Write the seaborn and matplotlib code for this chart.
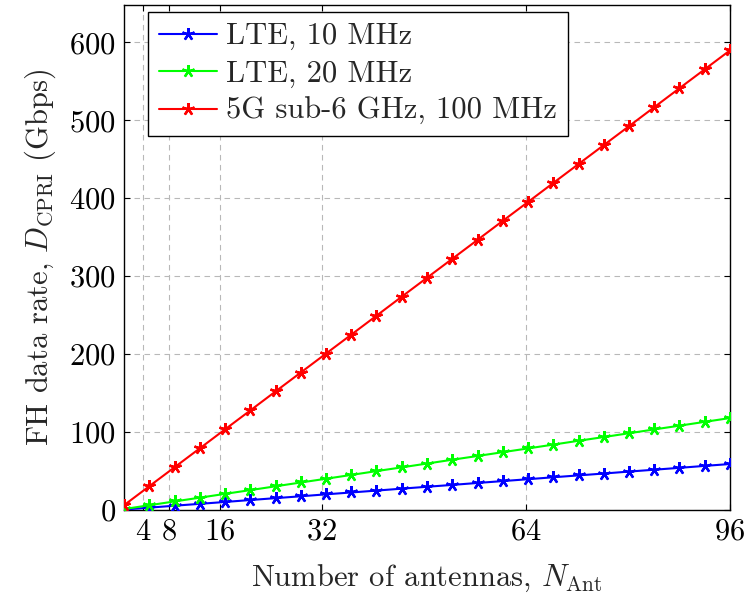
import matplotlib
matplotlib.use("Agg")
import matplotlib.pyplot as plt
import seaborn as sns
import pandas as pd

# Data
n_antennas = [1.0, 4.96, 8.92, 12.88, 16.83, 20.79, 24.75, 28.71, 32.67, 36.63,
              40.58, 44.54, 48.5, 52.46, 56.42, 60.38, 64.33, 68.29, 72.25,
              76.21, 80.17, 84.13, 88.08, 92.04, 96.0]
lte10 = [0.6, 3.0, 5.5, 7.9, 10.3, 12.8, 15.2, 17.6, 20.1, 22.5, 24.9, 27.4,
         29.8, 32.2, 34.7, 37.1, 39.5, 42.0, 44.4, 46.8, 49.3, 51.7, 54.1,
         56.6, 59.0]
lte20 = [1.2, 6.1, 11.0, 15.8, 20.7, 25.5, 30.4, 35.3, 40.1, 45.0, 49.9, 54.7,
         59.6, 64.5, 69.3, 74.2, 79.0, 83.9, 88.8, 93.6, 98.5, 103.4, 108.2,
         113.1, 118.0]
nr100 = [6.1, 30.5, 54.8, 79.1, 103.4, 127.7, 152.1, 176.4, 200.7, 225.0,
         249.3, 273.7, 298.0, 322.3, 346.6, 371.0, 395.2, 419.6, 443.9, 468.2,
         492.5, 516.9, 541.2, 565.5, 589.8]
series_names = ["LTE, 10 MHz", "LTE, 20 MHz", "5G sub-6 GHz, 100 MHz"]
series_values = [lte10, lte20, nr100]
series_colors = ["#0000ff", "#00ff00", "#ff0000"]
x_ticks = [4, 8, 16, 32, 64, 96]
y_ticks = [0, 100, 200, 300, 400, 500, 600]

sns.set_theme(style="ticks")
plt.rcParams["font.family"] = "serif"
plt.rcParams["font.serif"] = ["cmr10", "DejaVu Serif"]
plt.rcParams["mathtext.fontset"] = "cm"
plt.rcParams["axes.formatter.use_mathtext"] = True
plt.rcParams["axes.unicode_minus"] = False

FS = 22

fig = plt.figure(figsize=(7.48, 5.94), dpi=100)
ax = fig.add_axes([124 / 748, 1 - 510 / 594, (730 - 124) / 748, (510 - 5) / 594])

frames = []
for name, vals in zip(series_names, series_values):
    frames.append(pd.DataFrame({"x": n_antennas, "y": vals, "series": name}))
df = pd.concat(frames, ignore_index=True)

for name, color in zip(series_names, series_colors):
    sub = df[df["series"] == name]
    sns.lineplot(data=sub, x="x", y="y", ax=ax, color=color, lw=1.5,
                 marker=(5, 2, 0), markersize=9, markeredgewidth=1.7,
                 markeredgecolor=color, label=name, zorder=3)

ax.set_xlim(1, 96)
ax.set_ylim(0, 648)
ax.set_xticks(x_ticks)
ax.set_yticks(y_ticks)
ax.grid(True, linestyle=(0, (5, 4)), color="#b8b8b8", linewidth=0.8, zorder=0)
ax.tick_params(direction="in", top=True, right=True, length=4, width=0.8,
               labelsize=FS, colors="black", pad=6)
for s in ax.spines.values():
    s.set_color("black")
    s.set_linewidth(1.0)

ax.set_xlabel(r"Number of antennas, $N_{\mathrm{Ant}}$", fontsize=FS, labelpad=12)
ax.set_ylabel(r"FH data rate, $D_{\mathrm{CPRI}}$ (Gbps)", fontsize=FS, labelpad=8)

leg = ax.legend(loc="upper left", bbox_to_anchor=(0.04, 0.986), borderaxespad=0,
                fontsize=FS, frameon=True, fancybox=False, shadow=False,
                handlelength=1.9, handletextpad=0.3, labelspacing=0.32,
                borderpad=0.35)
leg.get_frame().set_edgecolor("black")
leg.get_frame().set_linewidth(1.0)
leg.get_frame().set_alpha(1)

fig.savefig("out.png", dpi=100)
